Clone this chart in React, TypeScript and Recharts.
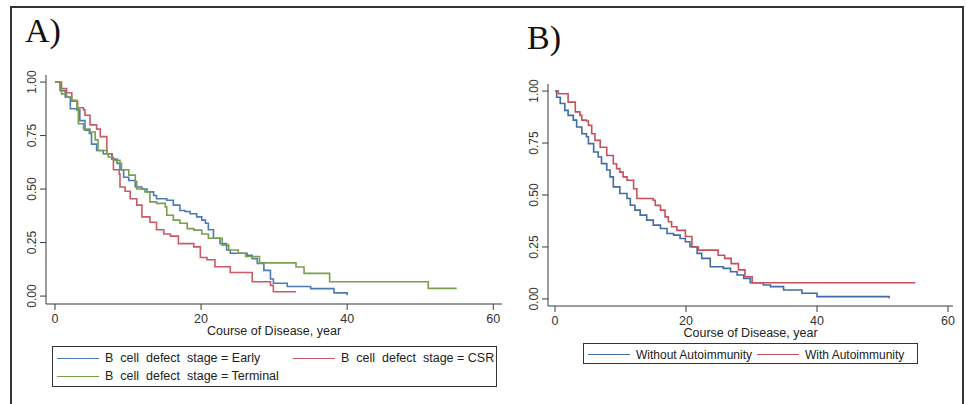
import { LineChart, Line, XAxis, YAxis, Legend } from "recharts";

const xTicks = [0, 20, 40, 60];
const yTicks = [0, 0.25, 0.5, 0.75, 1];

// A) B cell defect stage
const earlyT = [0, 0.7, 1.4, 2.1, 3.0, 3.4, 4.1, 4.7, 5.0, 5.7, 6.6, 7.8, 8.5, 8.9, 9.4, 10.1, 11.0, 11.9, 12.6, 13.5, 13.9, 15.3, 16.2, 17.1, 17.8, 18.5, 19.4, 20.1, 20.6, 21.0, 21.7, 22.6, 23.5, 24.0, 26.3, 27.0, 27.7, 28.6, 29.5, 29.9, 31.8, 35.0, 38.2, 40.0];
const earlyS = [1, 0.96, 0.93, 0.875, 0.87, 0.82, 0.775, 0.76, 0.71, 0.68, 0.665, 0.64, 0.62, 0.59, 0.555, 0.54, 0.51, 0.5, 0.487, 0.47, 0.455, 0.448, 0.425, 0.4, 0.395, 0.385, 0.37, 0.355, 0.34, 0.31, 0.27, 0.245, 0.215, 0.2, 0.19, 0.175, 0.152, 0.12, 0.08, 0.06, 0.045, 0.035, 0.015, 0.004];

const csrT = [0, 0.9, 1.6, 2.3, 3.1, 3.9, 4.1, 4.8, 5.7, 6.2, 7.1, 7.8, 8.0, 8.8, 8.9, 9.6, 10.3, 11.2, 11.9, 13.0, 13.9, 14.9, 15.8, 16.9, 19.0, 19.9, 20.8, 21.9, 24.0, 27.0, 29.5, 29.9, 33.0];
const csrS = [1, 0.97, 0.95, 0.91, 0.88, 0.87, 0.845, 0.8, 0.78, 0.745, 0.665, 0.64, 0.59, 0.57, 0.51, 0.49, 0.455, 0.425, 0.37, 0.345, 0.31, 0.29, 0.28, 0.245, 0.23, 0.18, 0.17, 0.137, 0.11, 0.067, 0.05, 0.02, 0.02];

const termT = [0, 0.7, 0.9, 1.6, 2.3, 3.0, 3.2, 3.9, 4.8, 5.5, 5.9, 7.1, 7.3, 8.0, 8.9, 9.1, 10.1, 11.0, 11.2, 12.3, 13.0, 13.9, 15.1, 15.3, 16.2, 17.1, 18.1, 19.0, 20.1, 21.0, 22.9, 23.8, 25.1, 26.1, 28.0, 33.0, 34.1, 37.6, 51.1, 55.0];
const termS = [1, 0.97, 0.945, 0.93, 0.915, 0.88, 0.805, 0.78, 0.767, 0.73, 0.68, 0.665, 0.65, 0.635, 0.62, 0.59, 0.565, 0.535, 0.5, 0.487, 0.44, 0.433, 0.417, 0.378, 0.355, 0.34, 0.315, 0.308, 0.29, 0.27, 0.238, 0.215, 0.2, 0.185, 0.155, 0.136, 0.106, 0.067, 0.036, 0.036];

// B) autoimmunity
const withoutT = [0, 0.25, 0.8, 1.5, 2.0, 2.8, 3.3, 4.1, 4.8, 5.1, 5.9, 6.6, 7.1, 7.9, 8.4, 8.9, 9.9, 11.0, 11.5, 12.2, 13.0, 14.0, 15.0, 16.1, 17.1, 18.1, 19.1, 19.9, 20.6, 21.7, 22.4, 23.7, 25.7, 26.8, 27.8, 28.8, 29.8, 31.8, 32.9, 34.9, 37.7, 40.0, 51.0];
const withoutS = [1, 0.97, 0.94, 0.907, 0.883, 0.86, 0.827, 0.795, 0.78, 0.747, 0.707, 0.683, 0.651, 0.62, 0.587, 0.539, 0.507, 0.483, 0.451, 0.427, 0.403, 0.379, 0.355, 0.339, 0.315, 0.307, 0.291, 0.275, 0.251, 0.219, 0.195, 0.155, 0.147, 0.131, 0.115, 0.099, 0.078, 0.067, 0.059, 0.043, 0.027, 0.011, 0.003];

const withT = [0, 0.5, 2.0, 3.1, 3.8, 4.1, 4.8, 5.1, 5.6, 6.1, 6.9, 7.9, 8.9, 9.4, 9.9, 10.4, 11.0, 12.0, 12.5, 15.0, 15.3, 16.1, 16.8, 17.3, 17.8, 18.6, 19.9, 20.9, 21.9, 24.9, 25.9, 26.9, 28.0, 29.0, 30.1, 55.0];
const withS = [1, 0.987, 0.947, 0.9, 0.883, 0.86, 0.856, 0.835, 0.795, 0.763, 0.73, 0.69, 0.65, 0.627, 0.61, 0.587, 0.571, 0.53, 0.483, 0.475, 0.45, 0.427, 0.395, 0.371, 0.347, 0.33, 0.3, 0.25, 0.235, 0.21, 0.195, 0.17, 0.14, 0.107, 0.078, 0.078];

const namesA = ["B  cell  defect  stage = Early", "B  cell  defect  stage = CSR", "B  cell  defect  stage = Terminal"];
const namesB = ["Without Autoimmunity", "With Autoimmunity"];

const toPoints = (t: number[], s: number[]) => t.map((v, i) => ({ t: v, s: s[i] }));

const FONT = "'Liberation Sans', Arial, sans-serif";
const AXIS = "#3a3a3a";

function YTick(props: any) {
  const { x, y, payload } = props;
  const cx = x - 6;
  return (
    <text
      x={cx}
      y={y}
      transform={`rotate(-90 ${cx} ${y})`}
      textAnchor="middle"
      dominantBaseline="central"
      fontSize={12}
      fontFamily={FONT}
      fill="#333"
    >
      {Number(payload.value).toFixed(2)}
    </text>
  );
}

function LegendBox(props: any) {
  const { payload, colWidth, fontSize, height, rowH, order } = props;
  const items = [...(payload || [])].sort(
    (a: any, b: any) => order.indexOf(a.value) - order.indexOf(b.value)
  );
  return (
    <div
      style={{
        boxSizing: "border-box",
        border: "1px solid #333",
        height,
        display: "grid",
        gridTemplateColumns: `${colWidth}px auto`,
        alignContent: "start",
        padding: "2px 0 0 4px",
        fontFamily: FONT,
        fontSize,
        color: "#222",
      }}
    >
      {items.map((p: any) => (
        <div key={p.value} style={{ display: "flex", alignItems: "center", height: rowH }}>
          <span style={{ display: "inline-block", width: 42, height: 0, borderTop: `1.5px solid ${p.color}`, marginRight: 6 }} />
          <span style={{ whiteSpace: "pre" }}>{p.value}</span>
        </div>
      ))}
    </div>
  );
}

function Panel(props: {
  left: number;
  width: number;
  top: number;
  bottom: number;
  plotLeft: number;
  plotRight: number;
  xDomain: [number, number];
  yDomain: [number, number];
  lines: { name: string; color: string; data: { t: number; s: number }[] }[];
  legend: { left: number; top: number; width: number; height: number; colWidth: number; fontSize: number; rowH: number };
}) {
  const H = 404;
  const yW = 30;
  const xH = 22;
  const order = props.lines.map((l) => l.name);
  return (
    <div style={{ position: "absolute", left: props.left, top: 0 }}>
      <LineChart
        width={props.width}
        height={H}
        margin={{
          top: props.top,
          left: props.plotLeft - yW,
          right: props.width - props.plotRight,
          bottom: H - props.bottom - xH,
        }}
      >
        <XAxis
          type="number"
          dataKey="t"
          domain={props.xDomain}
          ticks={xTicks}
          allowDataOverflow
          height={xH}
          tickSize={6}
          tickMargin={4}
          stroke={AXIS}
          tick={{ fill: "#333", fontSize: 12.5, fontFamily: FONT }}
          label={{ value: "Course of Disease, year", position: "bottom", offset: 0, fill: "#222", fontSize: 12.5, fontFamily: FONT }}
        />
        <YAxis
          type="number"
          domain={props.yDomain}
          ticks={yTicks}
          allowDataOverflow
          width={yW}
          tickSize={6}
          tickMargin={2}
          stroke={AXIS}
          tick={<YTick />}
        />
        {props.lines.map((l) => (
          <Line
            key={l.name}
            data={l.data}
            dataKey="s"
            name={l.name}
            type="stepAfter"
            stroke={l.color}
            strokeWidth={1.6}
            dot={false}
            activeDot={false}
            isAnimationActive={false}
          />
        ))}
        <Legend
          layout="horizontal"
          verticalAlign="middle"
          align="center"
          wrapperStyle={{ left: props.legend.left, top: props.legend.top, width: props.legend.width, height: props.legend.height }}
          content={<LegendBox order={order} colWidth={props.legend.colWidth} fontSize={props.legend.fontSize} height={props.legend.height} rowH={props.legend.rowH} />}
        />
      </LineChart>
    </div>
  );
}

export default function App() {
  const panelLabel = {
    position: "absolute" as const,
    fontFamily: "'Liberation Serif', 'Times New Roman', serif",
    fontSize: 34,
    color: "#111",
    lineHeight: 1,
  };
  return (
    <div style={{ position: "absolute", left: 0, top: 0, width: 966, height: 404, background: "#fff", overflow: "hidden" }}>
      <div style={{ position: "absolute", left: 10, top: 6, width: 950, height: 430, borderTop: "2px solid #333", borderLeft: "2px solid #333", borderRight: "2px solid #333" }} />
      <div style={{ ...panelLabel, left: 25, top: 14 }}>A)</div>
      <div style={{ ...panelLabel, left: 527, top: 21 }}>B)</div>
      <Panel
        left={0}
        width={510}
        top={75}
        bottom={304}
        plotLeft={46}
        plotRight={502}
        xDomain={[-1.23, 61.2]}
        yDomain={[-0.037, 1.033]}
        lines={[
          { name: namesA[0], color: "#4a7bb5", data: toPoints(earlyT, earlyS) },
          { name: namesA[1], color: "#cc5a64", data: toPoints(csrT, csrS) },
          { name: namesA[2], color: "#77a04c", data: toPoints(termT, termS) },
        ]}
        legend={{ left: 52, top: 346, width: 445, height: 41, colWidth: 236, fontSize: 12.5, rowH: 18 }}
      />
      <Panel
        left={0}
        width={966}
        top={84}
        bottom={306}
        plotLeft={548}
        plotRight={953}
        xDomain={[-1.07, 60.76]}
        yDomain={[-0.034, 1.034]}
        lines={[
          { name: namesB[0], color: "#3f6da3", data: toPoints(withoutT, withoutS) },
          { name: namesB[1], color: "#c9505b", data: toPoints(withT, withS) },
        ]}
        legend={{ left: 583, top: 343, width: 335, height: 21, colWidth: 169, fontSize: 12, rowH: 17 }}
      />
    </div>
  );
}
